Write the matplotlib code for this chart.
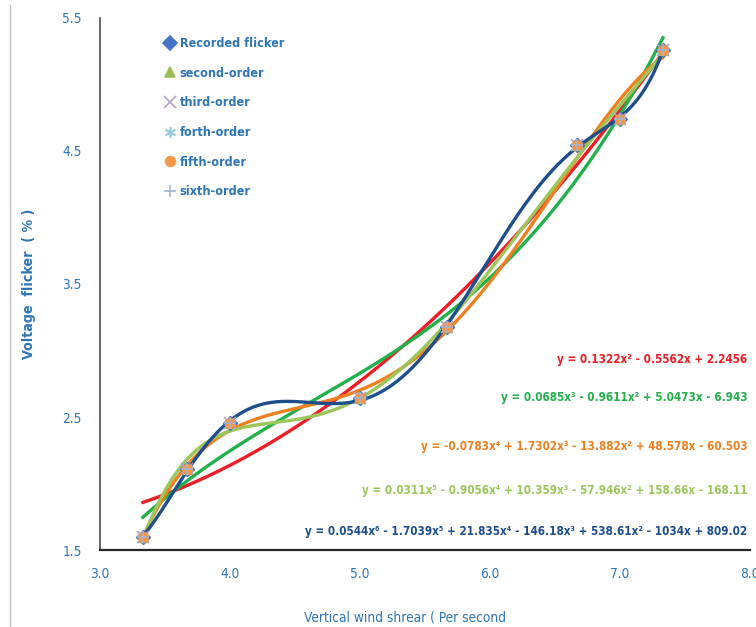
import matplotlib.pyplot as plt
import numpy as np
from matplotlib import font_manager
from matplotlib.lines import Line2D

# recorded flicker data
wind_shear = [3.33, 3.67, 4.0, 5.0, 5.67, 6.67, 7.0, 7.33]
flicker = [1.60, 2.11, 2.455, 2.64, 3.18, 4.545, 4.74, 5.26]

orders = [2, 3, 4, 5, 6]
fit_colors = ['#EE1C25', '#22B04B', '#F07F1F', '#9CC55B', '#1F4E8C']
equations = [
    'y = 0.1322x² - 0.5562x + 2.2456',
    'y = 0.0685x³ - 0.9611x² + 5.0473x - 6.943',
    'y = -0.0783x⁴ + 1.7302x³ - 13.882x² + 48.578x - 60.503',
    'y = 0.0311x⁵ - 0.9056x⁴ + 10.359x³ - 57.946x² + 158.66x - 168.11',
    'y = 0.0544x⁶ - 1.7039x⁵ + 21.835x⁴ - 146.18x³ + 538.61x² - 1034x + 809.02',
]
eq_y = [2.93, 2.65, 2.28, 1.95, 1.64]  # label heights in data units

series_labels = ['Recorded flicker', 'second-order', 'third-order',
                 'forth-order', 'fifth-order', 'sixth-order']
series_markers = ['D', '^', 'x', (6, 2, 0), 'o', '+']
series_colors = ['#4472C4', '#9BBB59', '#B3A2C7', '#93CDDD', '#F79646', '#A6B4CC']

# look for a narrow font (the original uses Calibri)
fonts = font_manager.fontManager.ttflist
stretch = 'normal'
if any(f.name == 'Liberation Sans Narrow' for f in fonts):
    base = 'Liberation Sans Narrow'
elif any(f.name == 'DejaVu Sans' and 'Condensed' in f.fname for f in fonts):
    base, stretch = 'DejaVu Sans', 'condensed'
else:
    base = 'Liberation Sans'
plt.rcParams['font.family'] = [base, 'DejaVu Sans']
plt.rcParams['font.stretch'] = stretch
scale = 1.0 if stretch == 'condensed' else 0.93

blue_txt = '#2E75B6'

fig = plt.figure(figsize=(7.56, 6.27), dpi=100)
ax = fig.add_axes([0.1323, 0.1228, 0.8598, 0.8485])

x = np.array(wind_shear)
y = np.array(flicker)
xs = np.linspace(x.min(), x.max(), 300)

for order, col in zip(orders, fit_colors):
    coef = np.polyfit(x, y, order)
    ax.plot(xs, np.polyval(coef, xs), color=col, lw=2.4, zorder=2)

for m, c in zip(series_markers, series_colors):
    if m in ('D', '^', 'o'):
        ax.plot(x, y, ls='none', marker=m, ms=7, color=c, mec=c, zorder=3)
    else:
        ax.plot(x, y, ls='none', marker=m, ms=8, color=c, mew=1.2, zorder=3)

for eq, col, ey in zip(equations, fit_colors, eq_y):
    ax.text(7.98, ey, eq, color=col, fontsize=8.4 * scale, fontweight='bold',
            ha='right', va='center')

ax.set_xlim(3.0, 8.0)
ax.set_ylim(1.5, 5.5)
ax.set_xticks(np.arange(3.0, 8.01, 1.0))
ax.set_yticks([1.5, 2.5, 3.5, 4.5, 5.5])
ax.xaxis.set_major_formatter(plt.FormatStrFormatter('%.1f'))
ax.yaxis.set_major_formatter(plt.FormatStrFormatter('%.1f'))
ax.tick_params(length=0, labelsize=9.8 * scale, labelcolor=blue_txt)
ax.tick_params(axis='x', pad=12)
ax.tick_params(axis='y', pad=13)
for s in ['top', 'right']:
    ax.spines[s].set_visible(False)
ax.spines['left'].set_color('#595959')
ax.spines['bottom'].set_color('#262626')
ax.spines['left'].set_linewidth(1.3)
ax.spines['bottom'].set_linewidth(1.6)

ax.set_ylabel('Voltage  flicker  ( % )', color=blue_txt, fontsize=10.2 * scale,
              fontweight='bold', va='center')
ax.yaxis.set_label_coords(-0.109, 0.5)
ax.set_xlabel('Vertical wind shrear ( Per second', color=blue_txt,
              fontsize=9.8 * scale, va='center')
ax.xaxis.set_label_coords(0.469, -0.126)

handles = []
for m, c, lab in zip(series_markers, series_colors, series_labels):
    filled = m in ('D', '^', 'o')
    handles.append(Line2D([], [], ls='none', marker=m, color=c,
                          ms=7 if filled else 8, mew=1.2, label=lab))
leg = ax.legend(handles=handles, loc='upper left', bbox_to_anchor=(0.085, 0.985),
                frameon=False, handlelength=0.6, handletextpad=0.45,
                labelspacing=1.33, prop={'weight': 'bold', 'size': 9.0 * scale})
for t in leg.get_texts():
    t.set_color(blue_txt)

# outer chart border on the left side
fig.add_artist(Line2D([10 / 756, 10 / 756], [0, 1 - 5 / 627], color='#BFBFBF', lw=1))

fig.savefig('out.png', dpi=100)
